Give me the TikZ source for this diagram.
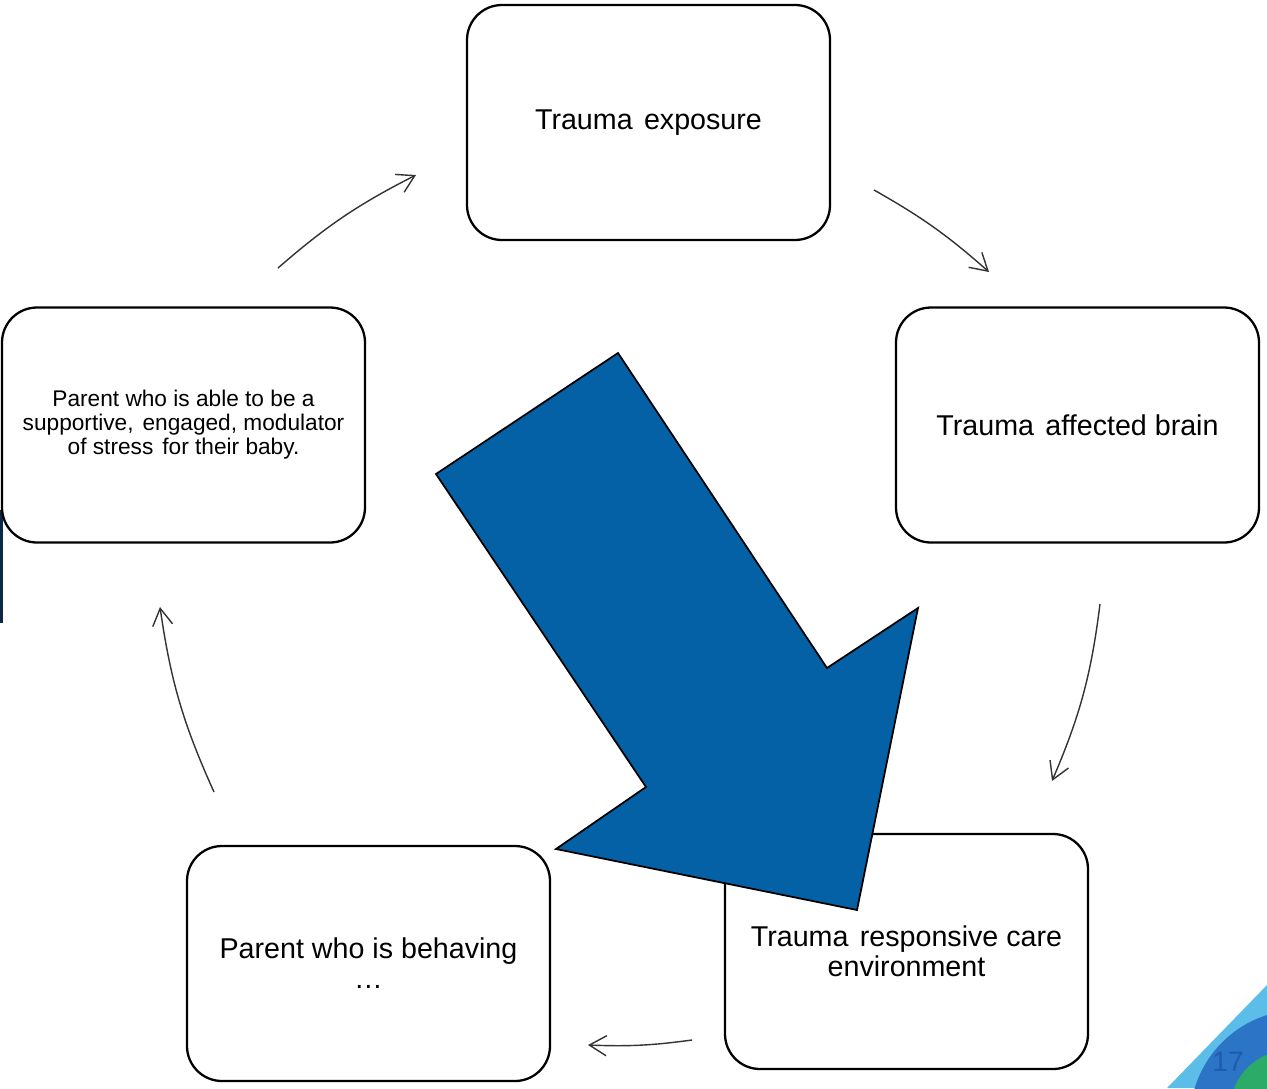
\documentclass[tikz,border=0pt]{standalone}
\usepackage{fontspec}
\setmainfont{Liberation Sans}
\usepackage{xcolor}
\usetikzlibrary{arrows.meta}

\definecolor{bigblue}{RGB}{5,97,166}
\definecolor{cornerlight}{RGB}{92,190,232}
\definecolor{cornerblue}{RGB}{43,116,198}
\definecolor{cornergreen}{RGB}{44,170,104}
\definecolor{pagenum}{RGB}{30,92,176}
\definecolor{edgenavy}{RGB}{12,40,72}

\newcommand{\wsp}{\ \hspace{0.12em}}

\begin{document}
\begin{tikzpicture}[
  >={Straight Barb[length=3.4mm,width=4mm]},
  cyclebox/.style={
    rectangle, rounded corners=0.7cm, draw=black, line width=1.3pt,
    fill=white, minimum width=7.26cm, minimum height=4.7cm,
    align=center, inner sep=3pt,
    font=\fontsize{16.3}{17.1}\selectfont
  },
  smallbox/.style={cyclebox, font=\fontsize{12.9}{13.7}\selectfont},
  cycleedge/.style={draw, ->, line width=0.8pt, black!80},
  bigarrow/.style={fill=bigblue, draw=black, line width=1pt, line join=miter},
]
\useasboundingbox (0,0) rectangle (25.34,-21.76);

% ============================================================
% SLIDE BACKGROUND BITS
% ============================================================
\begin{scope}
  \clip (0,0) rectangle (25.34,-21.76);
  \fill[cornerlight] (23.34,-21.76) -- (25.34,-19.7) -- (25.34,-21.76) -- cycle;
  \fill[cornerblue] (26.0,-22.4) circle (2.2);
  \fill[cornergreen] (25.8,-22.2) circle (1.2);
  \node[text=pagenum, font=\fontsize{16}{18}\selectfont, inner sep=0pt]
    (pagenr) at (24.56,-21.24) {17};
  \draw[edgenavy, line width=2.5pt] (0.02,-10.2) -- (0.02,-12.45);
\end{scope}

% ============================================================
% CYCLE BOXES
% ============================================================
\node[cyclebox] (expo) at (12.97,-2.45) {Trauma\wsp exposure};
\node[cyclebox] (brain) at (21.55,-8.5) {Trauma\wsp affected brain};
\node[cyclebox] (care) at (18.13,-19.03) {Trauma\wsp responsive care\\environment};
\node[cyclebox] (behave) at (7.37,-19.27) {Parent who is behaving\\…};
\node[smallbox] (able) at (3.67,-8.5)
  {Parent who is able to be a\\supportive,\wsp engaged, modulator\\of stress\wsp for their baby.};

% ============================================================
% CYCLE ARROWS (free ends at named points)
% ============================================================
\coordinate (ableout) at (5.56,-5.36);
\coordinate (expoin) at (8.32,-3.5);
\coordinate (expoout) at (17.48,-3.8);
\coordinate (brainin) at (19.78,-5.44);
\coordinate (brainout) at (22.0,-12.08);
\coordinate (carein) at (21.04,-15.62);
\coordinate (careout) at (13.84,-20.8);
\coordinate (behavein) at (11.76,-20.9);
\coordinate (behaveout) at (4.28,-15.84);
\coordinate (ablein) at (3.2,-12.14);

\draw[cycleedge] (ableout) to[bend left=7] (expoin);
\draw[cycleedge] (expoout) to[bend left=6] (brainin);
\draw[cycleedge] (brainout) to[bend left=8] (carein);
\draw[cycleedge] (careout) to[bend left=5] (behavein);
\draw[cycleedge] (behaveout) to[bend left=8] (ablein);

% ============================================================
% BIG BLUE ARROW (on top of the care box)
% ============================================================
\draw[bigarrow]
  (12.36,-7.06) -- (8.72,-9.48) -- (12.92,-15.74) -- (11.12,-16.98)
  -- (17.14,-18.2) -- (18.36,-12.16) -- (16.54,-13.36) -- cycle;

\end{tikzpicture}
\end{document}
